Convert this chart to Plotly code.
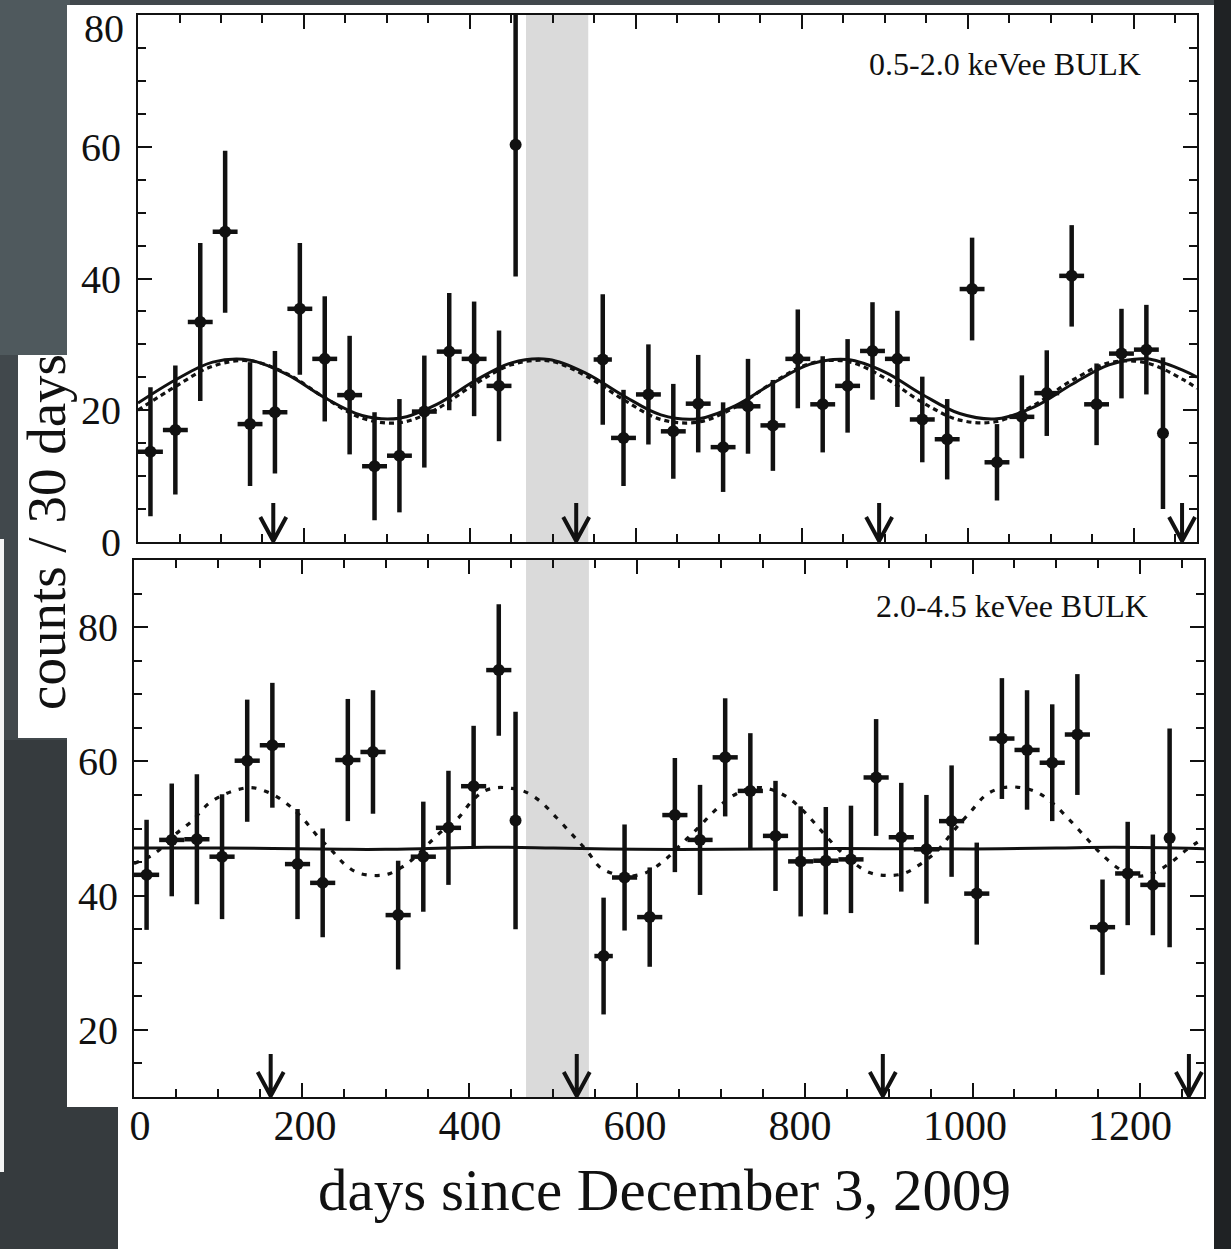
import plotly.graph_objects as go

W, H = 1231, 1249

# ---------------------------------------------------------------- data
# 30-day bin centres, days since December 3, 2009
days = [15, 45, 75, 105, 135, 165, 195, 225, 255, 285, 315, 345, 375, 405, 435, 455,
        560, 585, 615, 645, 675, 705, 735, 765, 795, 825, 855, 885, 915, 945, 975,
        1005, 1035, 1065, 1095, 1125, 1155, 1185, 1215, 1235]
# half bin width in days (0 = partial bin, plotted as a bare point)
half_width = [15, 15, 15, 15, 15, 15, 15, 15, 15, 15, 15, 15, 15, 15, 15, 0,
              11, 15, 15, 15, 15, 15, 15, 15, 15, 15, 15, 15, 15, 15, 15,
              15, 15, 15, 15, 15, 15, 15, 15, 0]

# 0.5-2.0 keVee bulk
counts_low = [13.7, 17.0, 33.4, 47.1, 17.9, 19.7, 35.4, 27.8, 22.3, 11.5, 13.1, 19.8, 28.9, 27.8,
              23.7, 60.3, 27.7, 15.8, 22.4, 16.8, 21.0, 14.4, 20.6, 17.7, 27.8, 20.9, 23.7, 29.0,
              27.8, 18.6, 15.6, 38.4, 12.1, 19.0, 22.6, 40.4, 20.9, 28.6, 29.2, 16.5]
err_low = [9.8, 9.8, 12.0, 12.3, 9.4, 9.3, 10.0, 9.5, 9.0, 8.2, 8.6, 8.5, 8.9, 8.7, 8.4, 20.0,
           9.9, 7.3, 7.6, 7.2, 7.4, 6.8, 7.2, 6.9, 7.5, 7.3, 7.1, 7.4, 7.3, 6.5, 6.1, 7.8,
           5.8, 6.3, 6.5, 7.7, 6.2, 6.8, 6.8, 11.5]

# 2.0-4.5 keVee bulk
counts_high = [43.1, 48.3, 48.4, 45.8, 60.1, 62.4, 44.7, 41.9, 60.2, 61.4, 37.1, 45.8, 50.1, 56.3,
               73.6, 51.2, 31.0, 42.7, 36.8, 52.0, 48.3, 60.6, 55.6, 48.9, 45.1, 45.2, 45.4, 57.6,
               48.7, 46.9, 51.1, 40.3, 63.4, 61.7, 59.8, 64.0, 35.3, 43.3, 41.6, 48.6]
err_high = [8.2, 8.4, 9.7, 9.3, 9.1, 9.3, 8.2, 8.1, 9.1, 9.2, 8.1, 8.2, 8.5, 9.0, 9.8, 16.2,
            8.7, 7.9, 7.4, 8.5, 8.2, 8.8, 8.6, 8.2, 8.2, 8.0, 8.0, 8.7, 8.1, 8.1, 8.3, 7.6,
            9.0, 8.9, 8.7, 9.0, 7.1, 7.7, 7.5, 16.3]

# modulation fit curves (sampled)
fit_days_low = [0, 45, 90, 135, 180, 225, 270, 315, 360, 405, 450, 495, 540, 585, 630, 675,
                720, 765, 810, 855, 900, 945, 990, 1035, 1080, 1125, 1170, 1215, 1260, 1276]
fit_low_solid = [21.1, 24.6, 27.3, 27.6, 25.4, 21.9, 19.2, 18.8, 20.9, 24.4, 27.2, 27.7, 25.6,
                 22.2, 19.3, 18.7, 20.7, 24.1, 27.0, 27.7, 25.8, 22.4, 19.5, 18.7, 20.5, 23.9,
                 26.9, 27.8, 26.0, 25.0]
fit_low_dotted = [20.0, 23.6, 26.7, 27.5, 25.5, 21.9, 18.8, 18.1, 20.2, 23.9, 26.9, 27.5, 25.2,
                  21.6, 18.6, 18.2, 20.5, 24.2, 27.1, 27.4, 24.9, 21.2, 18.5, 18.3, 20.8, 24.5,
                  27.2, 27.2, 24.6, 23.3]

fit_days_high_solid = [0, 100, 250, 300, 420, 500, 600, 700, 800, 900, 1000, 1100, 1170, 1276]
fit_high_solid = [47.1, 47.1, 46.9, 46.9, 47.2, 47.1, 46.9, 46.9, 47.0, 47.0, 46.95, 47.1, 47.2, 47.0]

fit_days_high_dotted = [0, 17, 29, 49, 69, 88, 108, 124, 140, 156, 172, 188, 204, 220, 236, 251,
                        267, 287, 303, 319, 335, 351, 367, 387, 403, 418, 434, 448, 464, 484,
                        504, 524, 540, 556, 576, 592, 612, 632, 652, 672, 692, 712, 732, 745,
                        760, 780, 800, 820, 840, 858, 878, 898, 918, 938, 958, 977, 997, 1017,
                        1037, 1057, 1077, 1097, 1117, 1137, 1156, 1176, 1196, 1216, 1236, 1256, 1276]
fit_high_dotted = [44.8, 45.7, 46.7, 49.1, 51.1, 53.6, 55.1, 55.8, 56.1, 55.6, 54.6, 53.1, 51.1,
                   48.7, 46.7, 44.7, 43.4, 43.0, 43.2, 44.2, 45.7, 47.7, 49.6, 51.6, 54.1, 55.6,
                   56.1, 56.0, 55.6, 54.1, 51.6, 48.9, 46.7, 44.2, 43.1, 42.9, 43.5, 45.2, 47.6,
                   50.0, 52.6, 54.7, 55.9, 56.1, 55.8, 54.6, 52.4, 49.6, 46.9, 44.9, 43.4, 43.0,
                   43.3, 44.7, 46.7, 49.6, 52.4, 55.1, 56.1, 56.1, 55.4, 53.6, 51.1, 48.4, 45.9,
                   43.9, 42.9, 43.4, 44.9, 46.9, 48.6]

# expected modulation maxima (arrows) and excluded period (shaded)
arrow_days = [163, 528, 893, 1258]
gap_start, gap_end = 467.5, 542.5

panel_labels = ["0.5-2.0 keVee BULK", "2.0-4.5 keVee BULK"]
x_ticks = [0, 200, 400, 600, 800, 1000, 1200]
x_title = "days since December 3, 2009"
y_title = "counts / 30 days"

# ---------------------------------------------------------------- figure
SERIF = "Liberation Serif"
INK = "#111111"
X_RANGE = [0, 1276]


def px_x(v):
    return v / W


def px_y(v):
    return 1 - v / H


fig = go.Figure()

panels = [
    dict(xa="x", ya="y", counts=counts_low, err=err_low,
         fd=fit_days_low, solid=fit_low_solid, fdd=fit_days_low, dotted=fit_low_dotted,
         dash="5px,4px"),
    dict(xa="x2", ya="y2", counts=counts_high, err=err_high,
         fd=fit_days_high_solid, solid=fit_high_solid, fdd=fit_days_high_dotted,
         dotted=fit_high_dotted, dash="5px,8px"),
]

for p in panels:
    fig.add_trace(go.Scatter(x=p["fdd"], y=p["dotted"], mode="lines", xaxis=p["xa"], yaxis=p["ya"],
                             line=dict(color=INK, width=3.2, dash=p["dash"], shape="spline",
                                       smoothing=1.0),
                             hoverinfo="skip"))
    fig.add_trace(go.Scatter(x=p["fd"], y=p["solid"], mode="lines", xaxis=p["xa"], yaxis=p["ya"],
                             line=dict(color=INK, width=3, shape="spline", smoothing=1.0),
                             hoverinfo="skip"))
    fig.add_trace(go.Scatter(x=days, y=p["counts"], mode="markers", xaxis=p["xa"], yaxis=p["ya"],
                             marker=dict(size=12, color=INK),
                             error_y=dict(type="data", array=p["err"], thickness=4.5, width=0,
                                          color=INK),
                             error_x=dict(type="data", array=half_width, thickness=4.5, width=0,
                                          color=INK)))

# carrier for the day-number labels under the lower panel
fig.add_trace(go.Scatter(x=[None], y=[None], xaxis="x3", yaxis="y2", mode="markers",
                         hoverinfo="skip"))

# page pieces: dark slide background with white cut-outs
bg_rects = [
    (0, 0, 70, 355, "#4f595d"),
    (1214, 0, W, H, "#1f2224"),
    (0, 740, 118, H, "#363b3e"),
    (67, 5, 1214, 1107, "#ffffff"),
    (18, 355, 67, 738, "#ffffff"),
    (118, 1107, 1214, H, "#ffffff"),
    (0, 539, 4, 1172, "#f4f4f4"),
]
shapes = []
for x0, y0, x1, y1, c in bg_rects:
    shapes.append(dict(type="rect", xref="paper", yref="paper", x0=px_x(x0), x1=px_x(x1),
                       y0=px_y(y1), y1=px_y(y0), fillcolor=c, line=dict(width=0), layer="below"))

for xa, ya, base, stem in [("x", "y", 0, 39), ("x2", "y2", 10, 43)]:
    shapes.append(dict(type="rect", xref=xa, yref=ya + " domain", x0=gap_start, x1=gap_end,
                       y0=0, y1=1, fillcolor="#dadada", line=dict(width=0), layer="below"))
    for d in arrow_days:
        shapes.append(dict(type="path", xref=xa, yref=ya, xsizemode="pixel", ysizemode="pixel",
                           xanchor=d, yanchor=base,
                           path=f"M0,1 L0,{stem} M-13,25 L0,1 L13,25",
                           line=dict(color=INK, width=4)))

axis_common = dict(showgrid=False, zeroline=False, showline=True, linecolor=INK, linewidth=2,
                   mirror="ticks", ticks="inside", tickcolor=INK, tickwidth=2,
                   tickfont=dict(family=SERIF, size=40, color=INK))
minor_x = dict(dtick=50, tick0=0, ticklen=8, tickwidth=2, tickcolor=INK, ticks="inside")
minor_y = dict(dtick=5, tick0=0, ticklen=8, tickwidth=2, tickcolor=INK, ticks="inside")

top_box = dict(l=138, r=1197, t=15, b=542)
bot_box = dict(l=134, r=1204, t=560, b=1097)
label_strip = dict(l=140, r=1192.7)   # day-number strip, printed slightly narrower

fig.update_layout(
    width=W, height=H, margin=dict(l=0, r=0, t=0, b=0, autoexpand=False),
    paper_bgcolor="#41484c", plot_bgcolor="rgba(0,0,0,0)", showlegend=False,
    shapes=shapes,
    xaxis=dict(axis_common, domain=[px_x(top_box["l"]), px_x(top_box["r"])], range=X_RANGE,
               anchor="y", tickvals=x_ticks, ticklen=14, showticklabels=False, minor=minor_x),
    yaxis=dict(axis_common, domain=[px_y(top_box["b"]), px_y(top_box["t"])], range=[0, 80],
               anchor="x", tickvals=[0, 20, 40, 60, 80], ticktext=["0", "20", "40", "60", ""],
               ticklen=14, ticklabelstandoff=7, minor=minor_y),
    xaxis2=dict(axis_common, domain=[px_x(bot_box["l"]), px_x(bot_box["r"])], range=X_RANGE,
                anchor="y2", tickvals=x_ticks, ticklen=14, showticklabels=False, minor=minor_x),
    yaxis2=dict(axis_common, domain=[px_y(bot_box["b"]), px_y(bot_box["t"])], range=[10, 90],
                anchor="x2", tickvals=[20, 40, 60, 80], ticklen=14, ticklabelstandoff=6,
                minor=minor_y),
    xaxis3=dict(domain=[px_x(label_strip["l"]), px_x(label_strip["r"])], range=X_RANGE,
                anchor="y2", side="bottom", showline=False, showgrid=False, zeroline=False,
                ticks="", tickvals=x_ticks, ticklabelstandoff=0,
                tickfont=dict(family=SERIF, size=42, color=INK)),
)

annotations = [
    dict(text=panel_labels[0], xref="paper", yref="paper", x=px_x(1143), y=px_y(64),
         xanchor="right", yanchor="middle", showarrow=False,
         font=dict(family=SERIF, size=32, color=INK)),
    dict(text=panel_labels[1], xref="paper", yref="paper", x=px_x(1150), y=px_y(606),
         xanchor="right", yanchor="middle", showarrow=False,
         font=dict(family=SERIF, size=32, color=INK)),
    # top tick label at the upper frame edge sits slightly lower
    dict(text="80", xref="paper", yref="paper", x=px_x(126), y=px_y(29),
         xanchor="right", yanchor="middle", showarrow=False,
         font=dict(family=SERIF, size=40, color=INK)),
    dict(text=x_title, xref="paper", yref="paper", x=px_x(665), y=px_y(1190),
         xanchor="center", yanchor="middle", showarrow=False,
         font=dict(family=SERIF, size=59, color=INK)),
    dict(text=y_title, xref="paper", yref="paper", x=px_x(46), y=px_y(532), textangle=-90,
         xanchor="center", yanchor="middle", showarrow=False,
         font=dict(family=SERIF, size=55, color=INK)),
]
fig.update_layout(annotations=annotations)

fig.write_html("out.html")
